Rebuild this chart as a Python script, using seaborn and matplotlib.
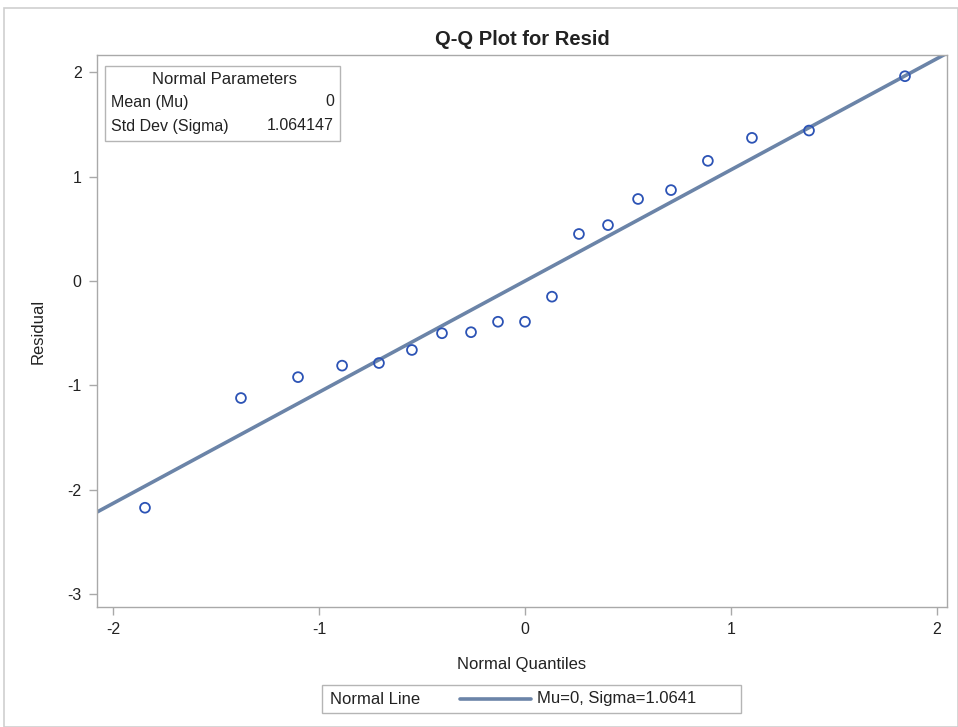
import matplotlib
matplotlib.use("Agg")
import matplotlib.pyplot as plt
import seaborn as sns
import numpy as np
import pandas as pd
from matplotlib.patches import Rectangle
from matplotlib.lines import Line2D

quantiles = [-1.845, -1.379, -1.102, -0.888, -0.709, -0.549, -0.403, -0.262, -0.131, 0.0,
             0.131, 0.262, 0.403, 0.549, 0.709, 0.888, 1.102, 1.379, 1.845]
residuals = [-2.17, -1.12, -0.92, -0.81, -0.785, -0.66, -0.50, -0.49, -0.39, -0.39,
             -0.15, 0.45, 0.535, 0.785, 0.87, 1.15, 1.37, 1.44, 1.96]
mu = 0.0
sigma = 1.064147
x_ticks = [-2, -1, 0, 1, 2]
y_ticks = [-3, -2, -1, 0, 1, 2]

sns.set_theme(style="white")
plt.rcParams['font.family'] = ['Liberation Sans', 'DejaVu Sans']

fig = plt.figure(figsize=(9.58, 7.27), dpi=100)
ax = fig.add_axes([97/958, 1-607/727, (947-97)/958, (607-55)/727])

df = pd.DataFrame({"q": quantiles, "r": residuals})
line_x = np.array([-2.2, 2.2])
line_df = pd.DataFrame({"x": line_x, "y": mu + sigma*line_x})

line_color = "#6b84a8"
sns.lineplot(data=line_df, x="x", y="y", ax=ax, color=line_color, linewidth=2.6, zorder=2)
sns.scatterplot(data=df, x="q", y="r", ax=ax, marker="o", s=50, facecolor="none",
                edgecolor="#2c53b5", linewidth=1.3, zorder=3)

ax.set_xlim(-2.078, 2.049)
ax.set_ylim(-3.12, 2.163)
ax.set_xticks(x_ticks)
ax.set_yticks(y_ticks)
ax.set_xticklabels([str(t) for t in x_ticks])
ax.set_yticklabels([str(t) for t in y_ticks])
for s in ax.spines.values():
    s.set_color("#a9a9a9")
    s.set_linewidth(1.0)
ax.tick_params(axis="both", which="both", direction="out", length=6, width=1,
               color="#a9a9a9", labelsize=11.5, labelcolor="#222222",
               bottom=True, left=True, top=False, right=False, pad=5)
ax.set_xlabel("Normal Quantiles", fontsize=12, color="#222222", labelpad=14)
ax.set_ylabel("Residual", fontsize=12, color="#222222", labelpad=16)
ax.set_title("Q-Q Plot for Resid", fontsize=14.5, fontweight="bold", color="#222222", pad=7)

# inset parameter box
bx0, by0, bx1, by1 = 105, 66, 340, 141
fig.patches.append(Rectangle((bx0/958, 1-by1/727), (bx1-bx0)/958, (by1-by0)/727,
                             transform=fig.transFigure, facecolor="white",
                             edgecolor="#b5b5b5", linewidth=1, zorder=5))
fs = 11.5
fig.text(224/958, 1-80/727, "Normal Parameters", ha="center", va="center", fontsize=12, color="#222222", zorder=6)
fig.text(111/958, 1-102/727, "Mean (Mu)", ha="left", va="center", fontsize=fs, color="#222222", zorder=6)
fig.text(334/958, 1-102/727, f"{mu:g}", ha="right", va="center", fontsize=fs, color="#222222", zorder=6)
fig.text(111/958, 1-126/727, "Std Dev (Sigma)", ha="left", va="center", fontsize=fs, color="#222222", zorder=6)
fig.text(334/958, 1-126/727, f"{sigma:.6f}", ha="right", va="center", fontsize=fs, color="#222222", zorder=6)

# bottom legend
lx0, ly0, lx1, ly1 = 322, 685, 741, 713
fig.patches.append(Rectangle((lx0/958, 1-ly1/727), (lx1-lx0)/958, (ly1-ly0)/727,
                             transform=fig.transFigure, facecolor="white",
                             edgecolor="#b5b5b5", linewidth=1))
fig.text(330/958, 1-699/727, "Normal Line", ha="left", va="center", fontsize=12, color="#222222")
fig.add_artist(Line2D([460/958, 531/958], [1-699/727, 1-699/727], transform=fig.transFigure,
                      color=line_color, linewidth=2.6))
fig.text(537/958, 1-699/727, f"Mu={mu:g}, Sigma={sigma:.4f}", ha="left", va="center", fontsize=12, color="#222222")

# outer border
fig.patches.append(Rectangle((4/958, 0), (958-4)/958, 1-8/727, transform=fig.transFigure,
                             facecolor="none", edgecolor="#cfcfcf", linewidth=1.2))

fig.savefig("out.png", dpi=100)
